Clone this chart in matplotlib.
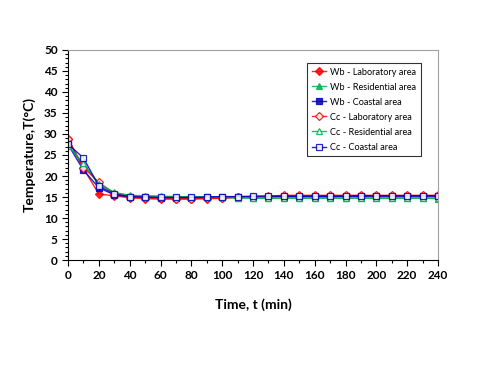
import matplotlib.pyplot as plt
from matplotlib.ticker import MultipleLocator

plt.rcParams['font.family'] = ['Lato', 'DejaVu Sans']

# time in minutes
t = list(range(0, 250, 10))

wb_lab = [28.8, 21.8, 15.7, 15.3, 14.8, 14.6, 14.5, 14.5, 14.5, 14.6, 14.7, 14.9, 15.0,
          15.1, 15.3, 15.3, 15.3, 15.3, 15.3, 15.3, 15.3, 15.3, 15.3, 15.3, 15.3]
wb_res = [27.3, 22.8, 18.0, 16.0, 15.3, 15.2, 15.1, 15.0, 15.0, 15.0, 14.9, 14.8, 14.7,
          14.7, 14.7, 14.7, 14.7, 14.7, 14.7, 14.7, 14.7, 14.7, 14.7, 14.7, 14.6]
wb_coast = [27.5, 21.4, 17.2, 15.5, 15.0, 14.9, 14.8, 14.8, 14.8, 14.9, 15.0, 15.0, 15.1,
            15.1, 15.1, 15.1, 15.1, 15.1, 15.2, 15.2, 15.2, 15.2, 15.2, 15.2, 15.2]
cc_lab = [28.9, 22.0, 18.5, 15.8, 15.1, 14.8, 14.7, 14.6, 14.6, 14.7, 14.8, 15.0, 15.1,
          15.2, 15.4, 15.4, 15.4, 15.4, 15.4, 15.4, 15.4, 15.4, 15.4, 15.4, 15.4]
cc_res = [27.2, 23.0, 18.2, 16.1, 15.4, 15.3, 15.2, 15.1, 15.1, 15.0, 14.9, 14.8, 14.8,
          14.8, 14.8, 14.8, 14.8, 14.8, 14.8, 14.8, 14.8, 14.8, 14.8, 14.8, 14.8]
cc_coast = [27.6, 24.3, 17.6, 15.7, 15.1, 15.0, 14.9, 14.9, 14.9, 15.0, 15.1, 15.1, 15.2,
            15.2, 15.2, 15.2, 15.2, 15.2, 15.2, 15.3, 15.3, 15.3, 15.3, 15.3, 15.3]

series = [
    ("Wb - Laboratory area", wb_lab, "#ff0000", "D", True),
    ("Wb - Residential area", wb_res, "#00b050", "^", True),
    ("Wb - Coastal area", wb_coast, "#0000c0", "s", True),
    ("Cc - Laboratory area", cc_lab, "#ff0000", "D", False),
    ("Cc - Residential area", cc_res, "#00b050", "^", False),
    ("Cc - Coastal area", cc_coast, "#0000c0", "s", False),
]

fig = plt.figure(figsize=(4.8, 3.86), dpi=100)
ax = fig.add_axes([0.1417, 0.3264, 0.7708, 0.5441])

for name, vals, col, mk, filled in series:
    ax.plot(t, vals, color=col, marker=mk, lw=1.0, alpha=0.85,
            markersize=4.5 if mk != "D" else 4,
            markerfacecolor=col if filled else "white",
            markeredgecolor=col, markeredgewidth=0.9, label=name)

ax.set_xlim(0, 240)
ax.set_ylim(0, 50)
ax.xaxis.set_major_locator(MultipleLocator(20))
ax.xaxis.set_minor_locator(MultipleLocator(10))
ax.yaxis.set_major_locator(MultipleLocator(5))
ax.yaxis.set_minor_locator(MultipleLocator(1))
ax.tick_params(which='both', direction='out', labelsize=8.5, width=0.8)
ax.tick_params(which='major', length=4)
ax.tick_params(which='minor', length=2)
for lab in ax.get_xticklabels() + ax.get_yticklabels():
    lab.set_fontweight('bold')

for s in ['top', 'right']:
    ax.spines[s].set_color('#a0a0a0')
for s in ['left', 'bottom']:
    ax.spines[s].set_color('black')

ax.set_xlabel("Time, t (min)", fontsize=10, fontweight='bold', labelpad=12)
ax.set_ylabel("Temperature,T(\u00b0C)", fontsize=10, fontweight='bold', labelpad=6)

leg = fig.legend(loc='upper left', bbox_to_anchor=(0.64, 0.837), borderaxespad=0,
                 fontsize=6.6, frameon=True, fancybox=False, edgecolor='black',
                 handlelength=1.5, handletextpad=0.5, labelspacing=0.66, borderpad=0.5)
leg.get_frame().set_linewidth(0.8)

fig.savefig("out.png", dpi=100)
